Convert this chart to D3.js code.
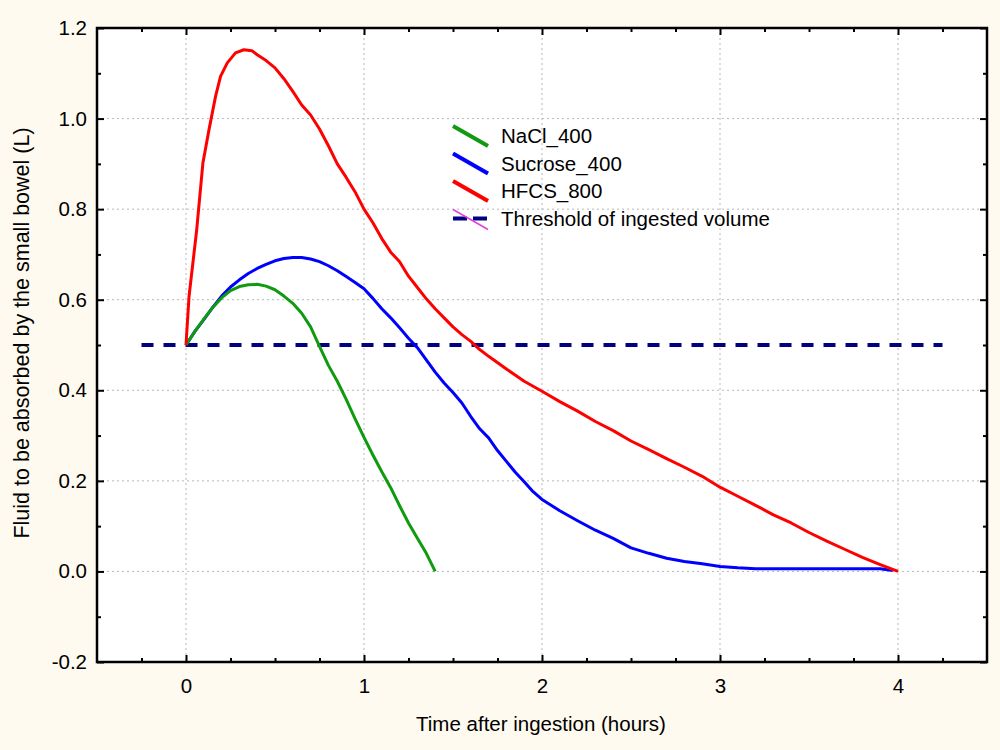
<!DOCTYPE html>
<html>
<head>
<meta charset="utf-8">
<script src="https://cdn.jsdelivr.net/npm/d3@7"></script>
<style>
  html, body { margin: 0; padding: 0; background: #fefaef; }
  svg { display: block; }
  text { font-family: "Liberation Sans", Arial, sans-serif; fill: #000; }
</style>
</head>
<body>
<svg id="chart" width="1000" height="750"></svg>
<script>
// ---- Data ----
const naclTime = [0, 0.05, 0.1, 0.15, 0.2, 0.25, 0.3, 0.35, 0.4, 0.45, 0.5, 0.55, 0.6, 0.65, 0.7, 0.75, 0.8, 0.85, 0.9, 0.95, 1.0, 1.05, 1.1, 1.15, 1.2, 1.25, 1.3, 1.35, 1.4];
const naclValues = [0.5, 0.53, 0.557, 0.583, 0.604, 0.62, 0.629, 0.633, 0.634, 0.63, 0.622, 0.608, 0.592, 0.57, 0.54, 0.497, 0.455, 0.42, 0.38, 0.337, 0.296, 0.257, 0.22, 0.185, 0.145, 0.107, 0.073, 0.04, 0.0];

const sucroseTime = [0, 0.05, 0.1, 0.15, 0.2, 0.25, 0.3, 0.35, 0.4, 0.45, 0.5, 0.55, 0.6, 0.65, 0.7, 0.75, 0.8, 0.85, 0.9, 0.95, 1.0, 1.05, 1.1, 1.15, 1.2, 1.25, 1.3, 1.35, 1.4, 1.45, 1.5, 1.55, 1.6, 1.65, 1.7, 1.75, 1.8, 1.85, 1.9, 1.95, 2.0, 2.1, 2.2, 2.3, 2.4, 2.5, 2.6, 2.7, 2.8, 2.9, 3.0, 3.1, 3.2, 3.5, 3.9, 3.97];
const sucroseValues = [0.5, 0.53, 0.556, 0.583, 0.608, 0.628, 0.644, 0.658, 0.669, 0.678, 0.686, 0.691, 0.693, 0.693, 0.69, 0.684, 0.675, 0.664, 0.651, 0.638, 0.624, 0.603, 0.58, 0.56, 0.538, 0.515, 0.494, 0.467, 0.44, 0.416, 0.395, 0.372, 0.342, 0.315, 0.295, 0.267, 0.243, 0.219, 0.198, 0.176, 0.159, 0.134, 0.112, 0.091, 0.073, 0.052, 0.04, 0.029, 0.022, 0.017, 0.011, 0.008, 0.006, 0.006, 0.006, 0.002];

const hfcsTime = [0, 0.017, 0.06, 0.095, 0.129, 0.166, 0.194, 0.232, 0.278, 0.325, 0.37, 0.4, 0.45, 0.5, 0.55, 0.6, 0.65, 0.7, 0.75, 0.8, 0.85, 0.9, 0.95, 1.0, 1.05, 1.1, 1.15, 1.2, 1.25, 1.3, 1.35, 1.4, 1.45, 1.5, 1.55, 1.6, 1.65, 1.7, 1.8, 1.9, 2.0, 2.1, 2.2, 2.3, 2.4, 2.5, 2.6, 2.7, 2.8, 2.9, 3.0, 3.1, 3.2, 3.3, 3.4, 3.5, 3.6, 3.7, 3.8, 3.9, 4.0];
const hfcsValues = [0.5, 0.607, 0.754, 0.902, 0.975, 1.049, 1.093, 1.123, 1.145, 1.152, 1.15, 1.141, 1.128, 1.112, 1.088, 1.06, 1.03, 1.008, 0.977, 0.94, 0.9, 0.87, 0.838, 0.80, 0.77, 0.735, 0.705, 0.684, 0.652, 0.627, 0.602, 0.58, 0.56, 0.54, 0.523, 0.508, 0.49, 0.475, 0.447, 0.42, 0.398, 0.375, 0.354, 0.331, 0.311, 0.288, 0.269, 0.249, 0.23, 0.21, 0.186, 0.166, 0.146, 0.125, 0.107, 0.086, 0.067, 0.049, 0.031, 0.015, 0.0];

const thresholdTime = [-0.25, 4.25];
const thresholdValues = [0.5, 0.5];

const seriesNames = ["NaCl_400", "Sucrose_400", "HFCS_800", "Threshold of ingested volume"];
const xTicks = [0, 1, 2, 3, 4];
const yTicks = [-0.2, 0.0, 0.2, 0.4, 0.6, 0.8, 1.0, 1.2];
const xTitle = "Time after ingestion (hours)";
const yTitle = "Fluid to be absorbed by the small bowel (L)";

// ---- Layout ----
const svg = d3.select("#chart");
const margin = { left: 97, top: 28, right: 1000 - 987, bottom: 750 - 662 };
const W = 1000 - margin.left - margin.right;
const H = 750 - margin.top - margin.bottom;

const x = d3.scaleLinear().domain([-0.5, 4.5]).range([0, W]);
const y = d3.scaleLinear().domain([-0.2, 1.2]).range([H, 0]);

const g = svg.append("g").attr("transform", `translate(${margin.left},${margin.top})`);

// plot background
g.append("rect").attr("x", 0).attr("y", 0).attr("width", W).attr("height", H).attr("fill", "#ffffff");

// grid
const grid = g.append("g").attr("class", "grid");
grid.selectAll("line.gx").data(xTicks).enter().append("line")
  .attr("x1", d => x(d)).attr("x2", d => x(d)).attr("y1", 0).attr("y2", H)
  .attr("stroke", "#b8b8b8").attr("stroke-width", 1).attr("stroke-dasharray", "2,3");
grid.selectAll("line.gy").data(yTicks.slice(1, -1)).enter().append("line")
  .attr("x1", 0).attr("x2", W).attr("y1", d => y(d)).attr("y2", d => y(d))
  .attr("stroke", "#b8b8b8").attr("stroke-width", 1).attr("stroke-dasharray", "2,3");

// minor tick values
const xMinor = d3.range(-0.25, 4.5, 0.25).filter(v => Math.abs(v - Math.round(v)) > 1e-6);
const yMinor = d3.range(-0.1, 1.2, 0.2);

const FS = "20.5px";
function styleAxis(sel) {
  sel.select(".domain").remove();
  sel.selectAll(".tick line").attr("stroke", "#000").attr("stroke-width", 2);
  sel.selectAll("text").style("font-size", FS).attr("fill", "#000");
}

const fmtY = d => d.toFixed(1);

// bottom
g.append("g").attr("transform", `translate(0,${H})`)
  .call(d3.axisBottom(x).tickValues(xTicks).tickSize(-7).tickPadding(16).tickFormat(d3.format("d")))
  .call(styleAxis);
g.append("g").attr("transform", `translate(0,${H})`)
  .call(d3.axisBottom(x).tickValues(xMinor).tickSize(-4).tickFormat(""))
  .call(styleAxis);
// top
g.append("g")
  .call(d3.axisTop(x).tickValues(xTicks).tickSize(-7).tickFormat(""))
  .call(styleAxis);
g.append("g")
  .call(d3.axisTop(x).tickValues(xMinor).tickSize(-4).tickFormat(""))
  .call(styleAxis);
// left
g.append("g")
  .call(d3.axisLeft(y).tickValues(yTicks).tickSize(-7).tickPadding(10).tickFormat(fmtY))
  .call(styleAxis);
g.append("g")
  .call(d3.axisLeft(y).tickValues(yMinor).tickSize(-4).tickFormat(""))
  .call(styleAxis);
// right
g.append("g").attr("transform", `translate(${W},0)`)
  .call(d3.axisRight(y).tickValues(yTicks).tickSize(-7).tickFormat(""))
  .call(styleAxis);
g.append("g").attr("transform", `translate(${W},0)`)
  .call(d3.axisRight(y).tickValues(yMinor).tickSize(-4).tickFormat(""))
  .call(styleAxis);

// lines
const line = d3.line().x(d => x(d[0])).y(d => y(d[1]));
const zip = (a, b) => a.map((v, i) => [v, b[i]]);

g.append("clipPath").attr("id", "clip").append("rect").attr("width", W).attr("height", H);
const lines = g.append("g").attr("clip-path", "url(#clip)");

lines.append("path").datum(zip(thresholdTime, thresholdValues)).attr("d", line)
  .attr("fill", "none").attr("stroke", "#000080").attr("stroke-width", 4).attr("stroke-dasharray", "12,10");
lines.append("path").datum(zip(sucroseTime, sucroseValues)).attr("d", line)
  .attr("fill", "none").attr("stroke", "#0000ff").attr("stroke-width", 3).attr("stroke-linejoin", "round");
lines.append("path").datum(zip(naclTime, naclValues)).attr("d", line)
  .attr("fill", "none").attr("stroke", "#109a10").attr("stroke-width", 3).attr("stroke-linejoin", "round");
lines.append("path").datum(zip(hfcsTime, hfcsValues)).attr("d", line)
  .attr("fill", "none").attr("stroke", "#ff0000").attr("stroke-width", 3).attr("stroke-linejoin", "round");

// frame
g.append("rect").attr("x", 0).attr("y", 0).attr("width", W).attr("height", H)
  .attr("fill", "none").attr("stroke", "#000").attr("stroke-width", 2.5);

// legend
const legendColors = ["#109a10", "#0000ff", "#ff0000"];
const leg = svg.append("g").attr("transform", "translate(453,136)");
const rowH = 27.5;
seriesNames.forEach((name, i) => {
  const row = leg.append("g").attr("transform", `translate(0,${i * rowH})`);
  if (i < 3) {
    row.append("line").attr("x1", 0).attr("y1", -10).attr("x2", 35).attr("y2", 10)
      .attr("stroke", legendColors[i]).attr("stroke-width", 4);
  } else {
    row.append("line").attr("x1", 0).attr("y1", 0).attr("x2", 35).attr("y2", 0)
      .attr("stroke", "#000080").attr("stroke-width", 4).attr("stroke-dasharray", "14,6");
    row.append("line").attr("x1", 0).attr("y1", -9).attr("x2", 35).attr("y2", 11)
      .attr("stroke", "#e040e0").attr("stroke-width", 1.5);
  }
  row.append("text").attr("x", 48).attr("y", 0).attr("dy", "0.35em")
    .style("font-size", FS).text(name);
});

// axis titles
svg.append("text").attr("x", 541).attr("y", 731)
  .attr("text-anchor", "middle").style("font-size", FS).text(xTitle);
svg.append("text").attr("transform", "translate(29,333) rotate(-90)")
  .attr("text-anchor", "middle").style("font-size", "21.5px").text(yTitle);
</script>
</body>
</html>
